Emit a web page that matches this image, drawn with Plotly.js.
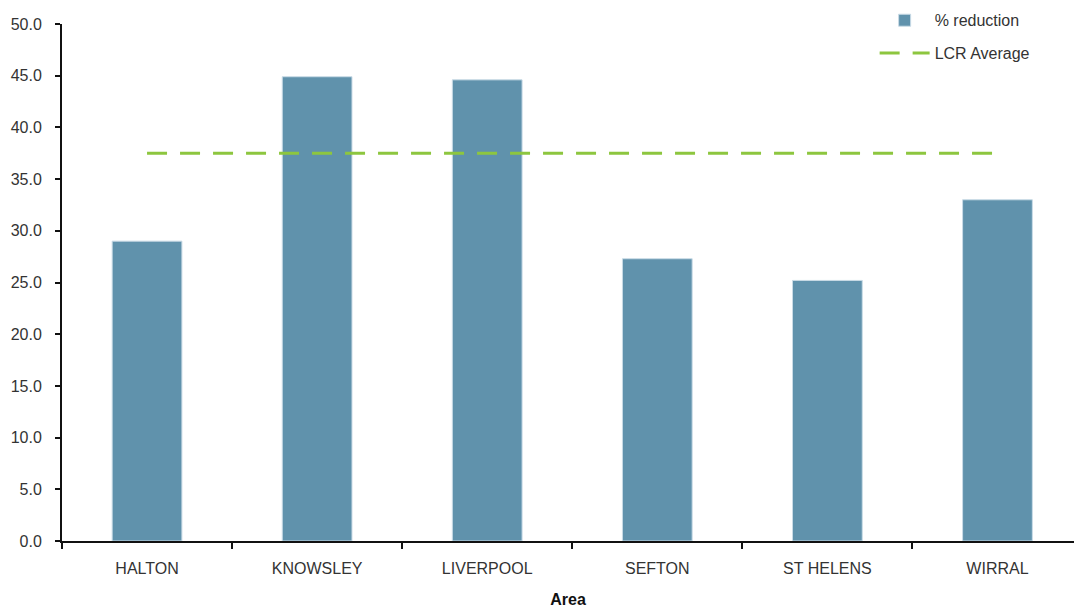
<!DOCTYPE html>
<html>
<head>
<meta charset="utf-8">
<script src="https://cdn.plot.ly/plotly-3.0.1.min.js"></script>
<style>html,body{margin:0;padding:0;background:#fff;}#chart{width:1074px;height:608px;}</style>
</head>
<body>
<div id="chart"></div>
<script>
const areas = ["HALTON", "KNOWSLEY", "LIVERPOOL", "SEFTON", "ST HELENS", "WIRRAL"];
const reduction = [29.0, 44.9, 44.6, 27.3, 25.2, 33.0];
const lcrAverage = [37.5, 37.5, 37.5, 37.5, 37.5, 37.5];
const yTicks = [0, 5, 10, 15, 20, 25, 30, 35, 40, 45, 50];

const font = {family: "Liberation Sans, Arial, sans-serif", size: 16, color: "#333333"};

const traces = [
  {
    type: "bar", name: "% reduction", x: areas, y: reduction, legendgroup: "a",
    marker: {color: "#6092ac", line: {color: "#c9dbe6", width: 1}},
    width: 0.41
  },
  {
    type: "scatter", mode: "lines", name: "LCR Average", x: areas, y: lcrAverage, legendgroup: "b",
    line: {color: "#8dc63f", width: 3, dash: "20px,13px"}
  }
];

const layout = {
  width: 1074, height: 608,
  margin: {l: 62, r: 0, t: 24, b: 67},
  paper_bgcolor: "#fff", plot_bgcolor: "#fff",
  font: font,
  showlegend: true,
  legend: {x: 0.803, y: 1.04, xanchor: "left", yanchor: "top", font: font, bgcolor: "rgba(0,0,0,0)",
           traceorder: "grouped", tracegroupgap: 9, itemwidth: 50},
  bargap: 0.59,
  xaxis: {
    type: "category", range: [-0.5, 5.45],
    showline: true, linecolor: "#111", linewidth: 2,
    ticks: "outside", tickson: "boundaries", ticklen: 6, tickwidth: 2, tickcolor: "#111",
    showgrid: false, zeroline: false,
    tickfont: font, ticklabelstandoff: 12,
    title: {text: "<b>Area</b>", font: {family: font.family, size: 16, color: "#111"}, standoff: 22}
  },
  yaxis: {
    range: [0, 50], tickvals: yTicks, tickformat: ".1f",
    showline: true, linecolor: "#111", linewidth: 2,
    ticks: "outside", ticklen: 5, tickwidth: 2, tickcolor: "#111",
    showgrid: false, zeroline: false,
    tickfont: font, ticklabelstandoff: 10
  }
};

Plotly.newPlot("chart", traces, layout, {displayModeBar: false, staticPlot: true});
</script>
</body>
</html>
